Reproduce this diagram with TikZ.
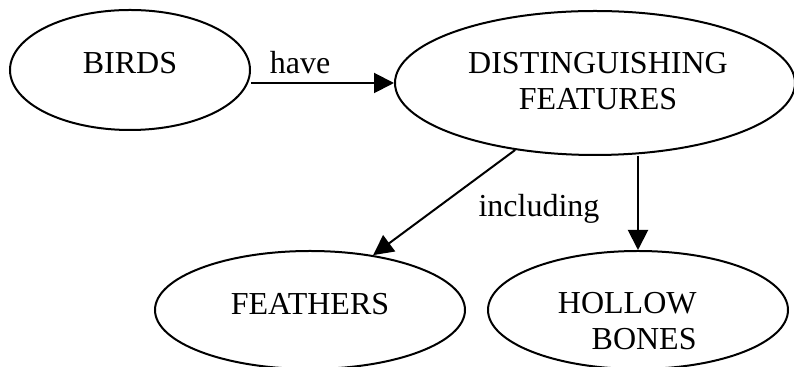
\documentclass[tikz,border=0pt]{standalone}
\usepackage{fontspec}
\setmainfont{Liberation Serif}
\usetikzlibrary{shapes.geometric,arrows.meta}

\tikzset{
  bubble/.style={draw=black, ellipse, line width=1pt, inner sep=0pt},
  word/.style={font=\fontsize{16}{18}\selectfont, inner sep=0pt},
  arr/.style={draw=black, line width=1pt, -{Triangle[length=10pt,width=10pt]}}
}

\begin{document}
\begin{tikzpicture}[x=0.5pt, y=0.5pt]
            \useasboundingbox (0,0) rectangle (794,-367);
            % the four ellipses
            \node [bubble, minimum width=120pt, minimum height=60pt] (birds) at (130,-70) {};
            \node [bubble, minimum width=200pt, minimum height=72pt] (dist) at (595,-83) {};
            \node [bubble, minimum width=155pt, minimum height=59pt] (feathers) at (310,-310) {};
            \node [bubble, minimum width=150pt, minimum height=59pt] (hollow) at (638,-310) {};
            % texts
            \node [word, anchor=base] (birdstext) at (130,-74) {BIRDS};
            \node [word, align=center] (disttext) at (598,-81.5) {DISTINGUISHING\\FEATURES};
            \node [word, anchor=base] (featherstext) at (310,-315) {FEATHERS};
            \node [word, align=right, anchor=east] (hollowtext) at (697,-321.5) {HOLLOW\\BONES};
            % links
            \draw [arr] (birds.east |- dist.west) -- (dist.west);
            \node [word, anchor=base] (have) at (300,-74) {have};
            \draw [arr] (dist.-140.5) -- (feathers.41);
            \draw [arr] (hollow.north |- dist.south) -- (hollow.north);
            \node [word, anchor=base] (including) at (539,-217) {including};
        \end{tikzpicture}
\end{document}
